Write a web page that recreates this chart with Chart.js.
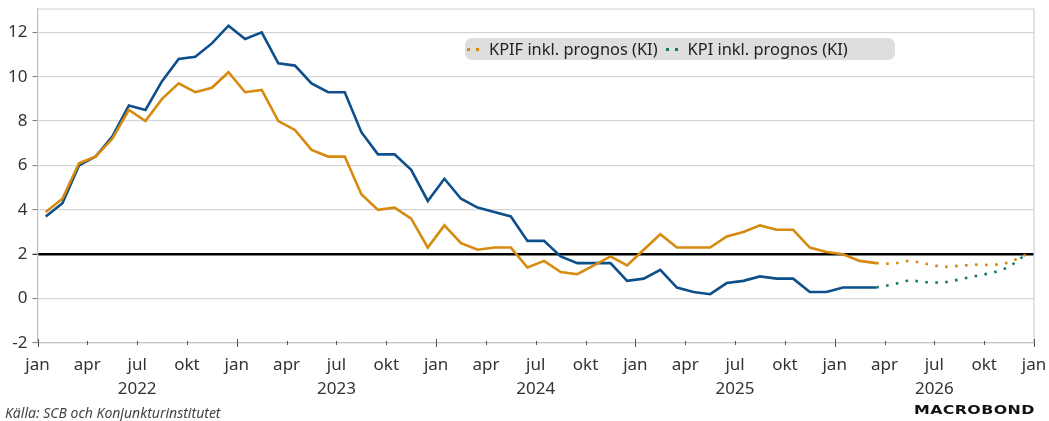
<!DOCTYPE html>
<html>
<head>
<meta charset="utf-8">
<script src="https://cdn.jsdelivr.net/npm/chart.js@4.4.1/dist/chart.umd.min.js"></script>
<style>
  body { margin: 0; background: #fff; }
  #wrap { position: relative; width: 1049px; height: 421px; font-family: "Noto Sans", sans-serif; }
  #legend { position: absolute; left: 465px; top: 38px; width: 430px; height: 22px; background: #dedede; border-radius: 7px;
            font-size: 16.4px; color: #222; line-height: 22px; white-space: nowrap; }
  #legend .dots { display: inline-block; width: 12px; height: 3px; margin: 0 10px 3px 0; vertical-align: middle; }
  #source { position: absolute; left: 5px; top: 403px; font-size: 14px; font-style: italic; color: #444; }
  #logo { position: absolute; left: 914px; top: 402px; font-size: 13px; font-weight: 800; color: #111;
          transform: scaleX(1.22); transform-origin: left center; letter-spacing: 0.3px; font-family: "DejaVu Sans", sans-serif; }
</style>
</head>
<body>
<div id="wrap">
  <canvas id="myChart" width="1049" height="421"></canvas>
  <div id="legend"></div>
  <div id="source">Källa: SCB och Konjunkturinstitutet</div>
  <div id="logo">MACROBOND</div>
</div>
<script>
// utfall, jan 2022 - mar 2026 (årlig procentuell förändring)
var kpif = [
  3.9, 4.5, 6.1, 6.4, 7.2, 8.5, 8.0, 9.0, 9.7, 9.3, 9.5, 10.2,
  9.3, 9.4, 8.0, 7.6, 6.7, 6.4, 6.4, 4.7, 4.0, 4.1, 3.6, 2.3,
  3.3, 2.5, 2.2, 2.3, 2.3, 1.4, 1.7, 1.2, 1.1, 1.5, 1.9, 1.5,
  2.2, 2.9, 2.3, 2.3, 2.3, 2.8, 3.0, 3.3, 3.1, 3.1, 2.3, 2.1,
  2.0, 1.7, 1.6
];
var kpi = [
  3.7, 4.3, 6.0, 6.4, 7.3, 8.7, 8.5, 9.8, 10.8, 10.9, 11.5, 12.3,
  11.7, 12.0, 10.6, 10.5, 9.7, 9.3, 9.3, 7.5, 6.5, 6.5, 5.8, 4.4,
  5.4, 4.5, 4.1, 3.9, 3.7, 2.6, 2.6, 1.9, 1.6, 1.6, 1.6, 0.8,
  0.9, 1.3, 0.5, 0.3, 0.2, 0.7, 0.8, 1.0, 0.9, 0.9, 0.3, 0.3,
  0.5, 0.5, 0.5
];
// prognos (KI), mar 2026 - dec 2026
var kpifPrognos = [1.6, 1.56, 1.72, 1.57, 1.42, 1.48, 1.53, 1.51, 1.62, 1.98];
var kpiPrognos = [0.5, 0.64, 0.83, 0.74, 0.71, 0.86, 1.02, 1.16, 1.42, 1.98];
var prognosStart = 50; // mar 2026, månader från jan 2022

var monthTicks = ['jan', 'apr', 'jul', 'okt'];
var years = ['2022', '2023', '2024', '2025', '2026'];
var yTicks = [-2, 0, 2, 4, 6, 8, 10, 12];

var orange = '#d68a0e';
var blue = '#0d4f8b';
var teal = '#16796d';

function toPoints(values, start) {
    var pts = [];
    for (var i = 0; i < values.length; i++) {
        pts.push({ x: start + i + 0.5, y: values[i] });
    }
    return pts;
}

var framePlugin = {
    id: 'frame',
    beforeDatasetsDraw: function (chart) {
        var a = chart.chartArea;
        var ctx = chart.ctx;
        var xs = chart.scales.x;
        ctx.save();
        ctx.strokeStyle = '#cfcfcf';
        ctx.lineWidth = 1.2;
        ctx.beginPath();
        ctx.moveTo(a.left, a.top);
        ctx.lineTo(a.right, a.top);
        ctx.lineTo(a.right, a.bottom);
        ctx.stroke();
        // tick marks on the time axis
        ctx.strokeStyle = '#555';
        ctx.lineWidth = 1;
        for (var m = 0; m <= 60; m += 3) {
            var px = Math.round(xs.getPixelForValue(m)) + 0.5;
            var len = (m % 12 === 0) ? 4 : 2;
            ctx.beginPath();
            ctx.moveTo(px, a.bottom - len);
            ctx.lineTo(px, a.bottom + len);
            ctx.stroke();
        }
        ctx.restore();
    }
};

var ctx = document.getElementById('myChart');
var myChart = new Chart(ctx, {
    type: 'line',
    data: {
        datasets: [{
            label: 'KPIF',
            data: toPoints(kpif, 0),
            borderColor: orange,
            borderWidth: 2.6,
            pointRadius: 0,
            tension: 0
        }, {
            label: 'KPI',
            data: toPoints(kpi, 0),
            borderColor: blue,
            borderWidth: 2.6,
            pointRadius: 0,
            tension: 0
        }, {
            label: 'KPIF inkl. prognos (KI)',
            data: toPoints(kpifPrognos, prognosStart),
            borderColor: orange,
            borderWidth: 2.6,
            borderDash: [2.6, 7.4],
            borderCapStyle: 'butt',
            pointRadius: 0,
            tension: 0
        }, {
            label: 'KPI inkl. prognos (KI)',
            data: toPoints(kpiPrognos, prognosStart),
            borderColor: teal,
            borderWidth: 2.6,
            borderDash: [2.6, 7.4],
            borderCapStyle: 'butt',
            pointRadius: 0,
            tension: 0
        }]
    },
    options: {
        responsive: false,
        animation: false,
        layout: { padding: { left: 0, right: 15, top: 9, bottom: 0 } },
        plugins: {
            legend: { display: false },
            tooltip: { enabled: false }
        },
        scales: {
            x: {
                type: 'linear',
                min: 0,
                max: 60,
                afterFit: function (scale) {
                    scale.height = 78;
                    scale.paddingLeft = 0;
                    scale.paddingRight = 0;
                },
                afterBuildTicks: function (scale) {
                    var t = [];
                    for (var m = 0; m <= 60; m += 3) t.push({ value: m });
                    scale.ticks = t;
                },
                grid: { display: false },
                border: { display: true, color: '#c4c4c4', width: 1.2 },
                ticks: {
                    autoSkip: false,
                    maxRotation: 0,
                    padding: 2,
                    color: '#333',
                    font: { family: 'Noto Sans', size: 17, lineHeight: 1.41 },
                    callback: function (value) {
                        var q = (value / 3) % 4;
                        var name = monthTicks[q];
                        if (q === 2) return [name, years[Math.floor(value / 12)]];
                        return name;
                    }
                }
            },
            y: {
                min: -2,
                max: 13.05,
                afterFit: function (scale) {
                    scale.width = 37.5;
                    scale.paddingTop = 0;
                    scale.paddingBottom = 0;
                },
                afterBuildTicks: function (scale) {
                    scale.ticks = yTicks.map(function (v) { return { value: v }; });
                },
                grid: {
                    color: function (c) { return c.tick && c.tick.value === 2 ? '#000' : '#d6d6d6'; },
                    lineWidth: function (c) { return c.tick && c.tick.value === 2 ? 2.6 : 1.2; },
                    tickColor: function (c) { return c.tick && c.tick.value === 2 ? '#000' : '#777'; },
                    tickLength: 5,
                    tickWidth: 1
                },
                border: { display: true, color: '#bdbdbd', width: 1.2 },
                ticks: {
                    padding: 5,
                    color: '#333',
                    font: { family: 'Noto Sans', size: 17 }
                }
            }
        }
    },
    plugins: [framePlugin]
});

// legend, only the prognosis series
var legendHtml = '';
myChart.data.datasets.slice(2).forEach(function (ds, i) {
    var c = ds.borderColor;
    legendHtml += '<span style="margin-left:' + (i === 0 ? 2 : 8) + 'px">' +
        '<span class="dots" style="background:linear-gradient(90deg,' + c + ' 0 3px,transparent 3px 9px,' + c + ' 9px 12px)"></span>' +
        ds.label + '</span>';
});
document.getElementById('legend').innerHTML = legendHtml;
</script>
</body>
</html>
